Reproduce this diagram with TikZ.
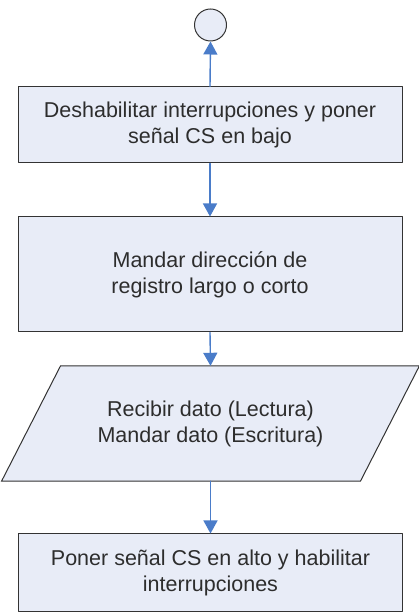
\documentclass[tikz,border=0pt]{standalone}
\usepackage{fontspec}
\setmainfont{Liberation Sans}
\usetikzlibrary{arrows.meta,backgrounds}

\definecolor{cajafondo}{RGB}{232,236,247}
\definecolor{flechaazul}{RGB}{74,124,201}
\definecolor{textogris}{RGB}{45,45,45}

\begin{document}
\begin{tikzpicture}[line cap=round,line join=round,x=1pt,y=1pt,
  texto/.style={text=textogris,align=center,font=\fontsize{21.5}{26}\selectfont,inner sep=0pt},
  caja/.style={texto,draw=black!80,line width=1pt,fill=cajafondo,minimum width=384pt},
  flecha/.style={-{Triangle[length=13pt,width=14pt]},draw=flechaazul,fill=flechaazul,line width=1.4pt}]

\useasboundingbox (0,0) rectangle (418,616);

\node[circle,draw=black!80,line width=1pt,fill=cajafondo,minimum size=32pt,inner sep=0pt] (fin) at (210.5,591) {};
\node[caja,minimum height=76pt] (deshab) at (210,491) {Deshabilitar interrupciones y poner\\se\~nal CS en bajo};
\node[caja,minimum height=115pt] (mandar) at (210,341.5) {Mandar direcci\'on de\\registro largo o corto};
\node[texto,minimum width=358.5pt,minimum height=115pt] (dato) at (210.5,192.5) {Recibir dato (Lectura)\\Mandar dato (Escritura)};
\node[caja,minimum height=78pt] (poner) at (210.5,43) {Poner se\~nal CS en alto y habilitar\\interrupciones};

% paralelogramo de entrada/salida
\begin{scope}[on background layer]
\draw[draw=black!80,line width=1pt,fill=cajafondo] ([xshift=29.5pt]dato.north west) -- ([xshift=29.5pt]dato.north east) -- ([xshift=-29.5pt]dato.south east) -- ([xshift=-29.5pt]dato.south west) -- cycle;
\end{scope}

\draw[flecha] (deshab.north) -- (fin.south);
\draw[flecha] (deshab.south) -- (mandar.north);
\draw[flecha] (mandar.south) -- (dato.north);
\draw[flecha] (dato.south) -- (poner.north);

\end{tikzpicture}
\end{document}
